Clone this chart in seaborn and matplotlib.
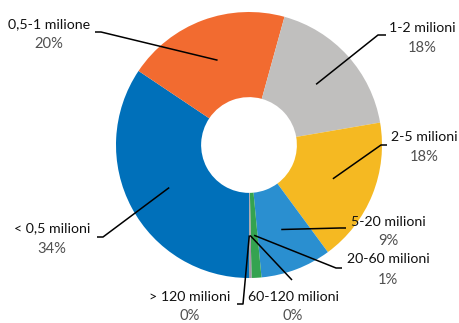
import numpy as np
import matplotlib
matplotlib.use('Agg')
import matplotlib.pyplot as plt
import seaborn as sns

# dati (quote per fascia di fatturato)
labels = ['< 0,5 milioni', '0,5-1 milione', '1-2 milioni', '2-5 milioni',
          '5-20 milioni', '20-60 milioni', '60-120 milioni', '> 120 milioni']
values = [34.4, 19.9, 18.0, 17.6, 8.6, 1.2, 0.2, 0.1]
pct_labels = ['34%', '20%', '18%', '18%', '9%', '1%', '0%', '0%']
colors = ['#0070BA', '#F26B30', '#C0BFBE', '#F5B922', '#2A8FD0',
          '#34A350', '#A595AB', '#8E8E8E']

sns.set_theme(style='white')
plt.rcParams['font.family'] = ['Lato', 'DejaVu Sans']

fig = plt.figure(figsize=(4.59, 3.23), dpi=100)
ax = fig.add_axes([0, 0, 1, 1])

wedges, _ = ax.pie(values, colors=colors, startangle=-90, counterclock=False,
                   radius=1.0, wedgeprops=dict(width=0.64, linewidth=0))

# conversione pixel -> coordinate dati (centro 249,145, raggio 133 px)
def px(x, y):
    return (x - 249) / 133, (145 - y) / 133

# posizione etichette (centro testo, y del %), punto iniziale della linea, gomito
layout = [
    ((52, 228), 249, (97, 237), (103, 237)),
    ((49, 24), 44, (95, 32), (101, 32)),
    ((422, 28), 48, (386, 35), (378, 35)),
    ((424, 137), 157, (387, 145), (381, 145)),
    ((388, 222), 241, (346, 228), (340, 228)),
    ((388, 259), 280, (342, 268), (336, 268)),
    ((293, 297), 316, (292, 280), (292, 280)),
    ((190, 297), 316, (237, 304), (243, 304)),
]

for w, lab, pct, (tpos, pcty, start, elbow) in zip(wedges, labels, pct_labels, layout):
    ang = np.deg2rad((w.theta1 + w.theta2) / 2)
    ax_, ay_ = 0.68 * np.cos(ang), 0.68 * np.sin(ang)
    sx, sy = px(*start)
    ex, ey = px(*elbow)
    ax.plot([sx, ex, ax_], [sy, ey, ay_], color='black', lw=1.1,
            solid_capstyle='butt', zorder=5)
    tx, ty = px(*tpos)
    ax.text(tx, ty, lab, ha='center', va='center', fontsize=10.2, color='#111111')
    px2, py2 = px(tpos[0], pcty)
    ax.text(px2, py2, pct, ha='center', va='center', fontsize=10.6,
            color='#505050')

ax.set_xlim(-249 / 133, (459 - 249) / 133)
ax.set_ylim((145 - 323) / 133, 145 / 133)
ax.set_aspect('auto')
ax.axis('off')

fig.savefig('out.png', dpi=100)
